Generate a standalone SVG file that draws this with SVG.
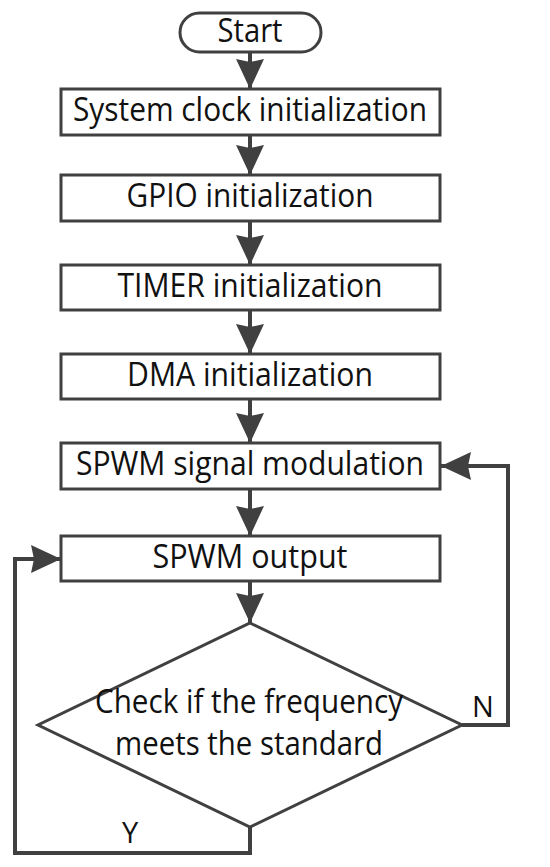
<svg xmlns="http://www.w3.org/2000/svg" width="550" height="867" viewBox="0 0 550 867">
<style>
.box{fill:#ffffff;stroke:#404040;stroke-width:3}
.con{fill:none;stroke:#404040;stroke-width:4}
.t{font-family:"Open Sans","Liberation Sans",sans-serif;font-size:32px;fill:#111111;text-anchor:middle}
.lbl{font-family:"Open Sans","Liberation Sans",sans-serif;font-size:29px;fill:#111111;text-anchor:middle}
</style>
<defs>
<marker id="ah" viewBox="0 0 30 28" refX="30" refY="14" markerWidth="30" markerHeight="28" markerUnits="userSpaceOnUse" orient="auto">
<path d="M0,0 L30,14 L0,28 L3,14 z" fill="#404040"/>
</marker>
</defs>
<rect width="550" height="867" fill="#ffffff"/>
<g id="connectors">
<line class="con" x1="250" y1="52" x2="250" y2="89" marker-end="url(#ah)"/>
<line class="con" x1="250" y1="135" x2="250" y2="175" marker-end="url(#ah)"/>
<line class="con" x1="250" y1="221" x2="250" y2="265" marker-end="url(#ah)"/>
<line class="con" x1="250" y1="310" x2="250" y2="354" marker-end="url(#ah)"/>
<line class="con" x1="250" y1="399" x2="250" y2="443" marker-end="url(#ah)"/>
<line class="con" x1="250" y1="489" x2="250" y2="536" marker-end="url(#ah)"/>
<line class="con" x1="250" y1="581" x2="250" y2="623" marker-end="url(#ah)"/>
<polyline class="con" points="462,725 508,725 508,466 441,466" marker-end="url(#ah)"/>
<polyline class="con" points="250,827 250,853 15,853 15,559 61,559" marker-end="url(#ah)"/>
</g>
<g id="start">
<rect class="box" x="180" y="13" width="141" height="39" rx="19.5"/>
<text class="t" x="250" y="42" textLength="65" lengthAdjust="spacingAndGlyphs">Start</text>
</g>
<g id="sysclk">
<rect class="box" x="61" y="89" width="379" height="46"/>
<text class="t" x="250" y="121" textLength="354" lengthAdjust="spacingAndGlyphs">System clock initialization</text>
</g>
<g id="gpio">
<rect class="box" x="61" y="175" width="379" height="46"/>
<text class="t" x="250" y="207" textLength="247" lengthAdjust="spacingAndGlyphs">GPIO initialization</text>
</g>
<g id="timer">
<rect class="box" x="61" y="265" width="379" height="45"/>
<text class="t" x="250" y="297" textLength="265" lengthAdjust="spacingAndGlyphs">TIMER initialization</text>
</g>
<g id="dma">
<rect class="box" x="61" y="354" width="379" height="45"/>
<text class="t" x="250" y="386" textLength="246" lengthAdjust="spacingAndGlyphs">DMA initialization</text>
</g>
<g id="modulation">
<rect class="box" x="61" y="443" width="379" height="46"/>
<text class="t" x="250" y="475" textLength="348" lengthAdjust="spacingAndGlyphs">SPWM signal modulation</text>
</g>
<g id="output">
<rect class="box" x="61" y="536" width="379" height="45"/>
<text class="t" x="250" y="568" textLength="195" lengthAdjust="spacingAndGlyphs">SPWM output</text>
</g>
<g id="check">
<polygon class="box" points="250,623 462,725 250,827 38,725"/>
<text class="t" x="249" y="713" textLength="308" lengthAdjust="spacingAndGlyphs">Check if the frequency</text>
<text class="t" x="249" y="755" textLength="268" lengthAdjust="spacingAndGlyphs">meets the standard</text>
</g>
<g id="labels">
<text class="lbl" x="483" y="717">N</text>
<text class="lbl" x="130" y="843">Y</text>
</g>
</svg>
